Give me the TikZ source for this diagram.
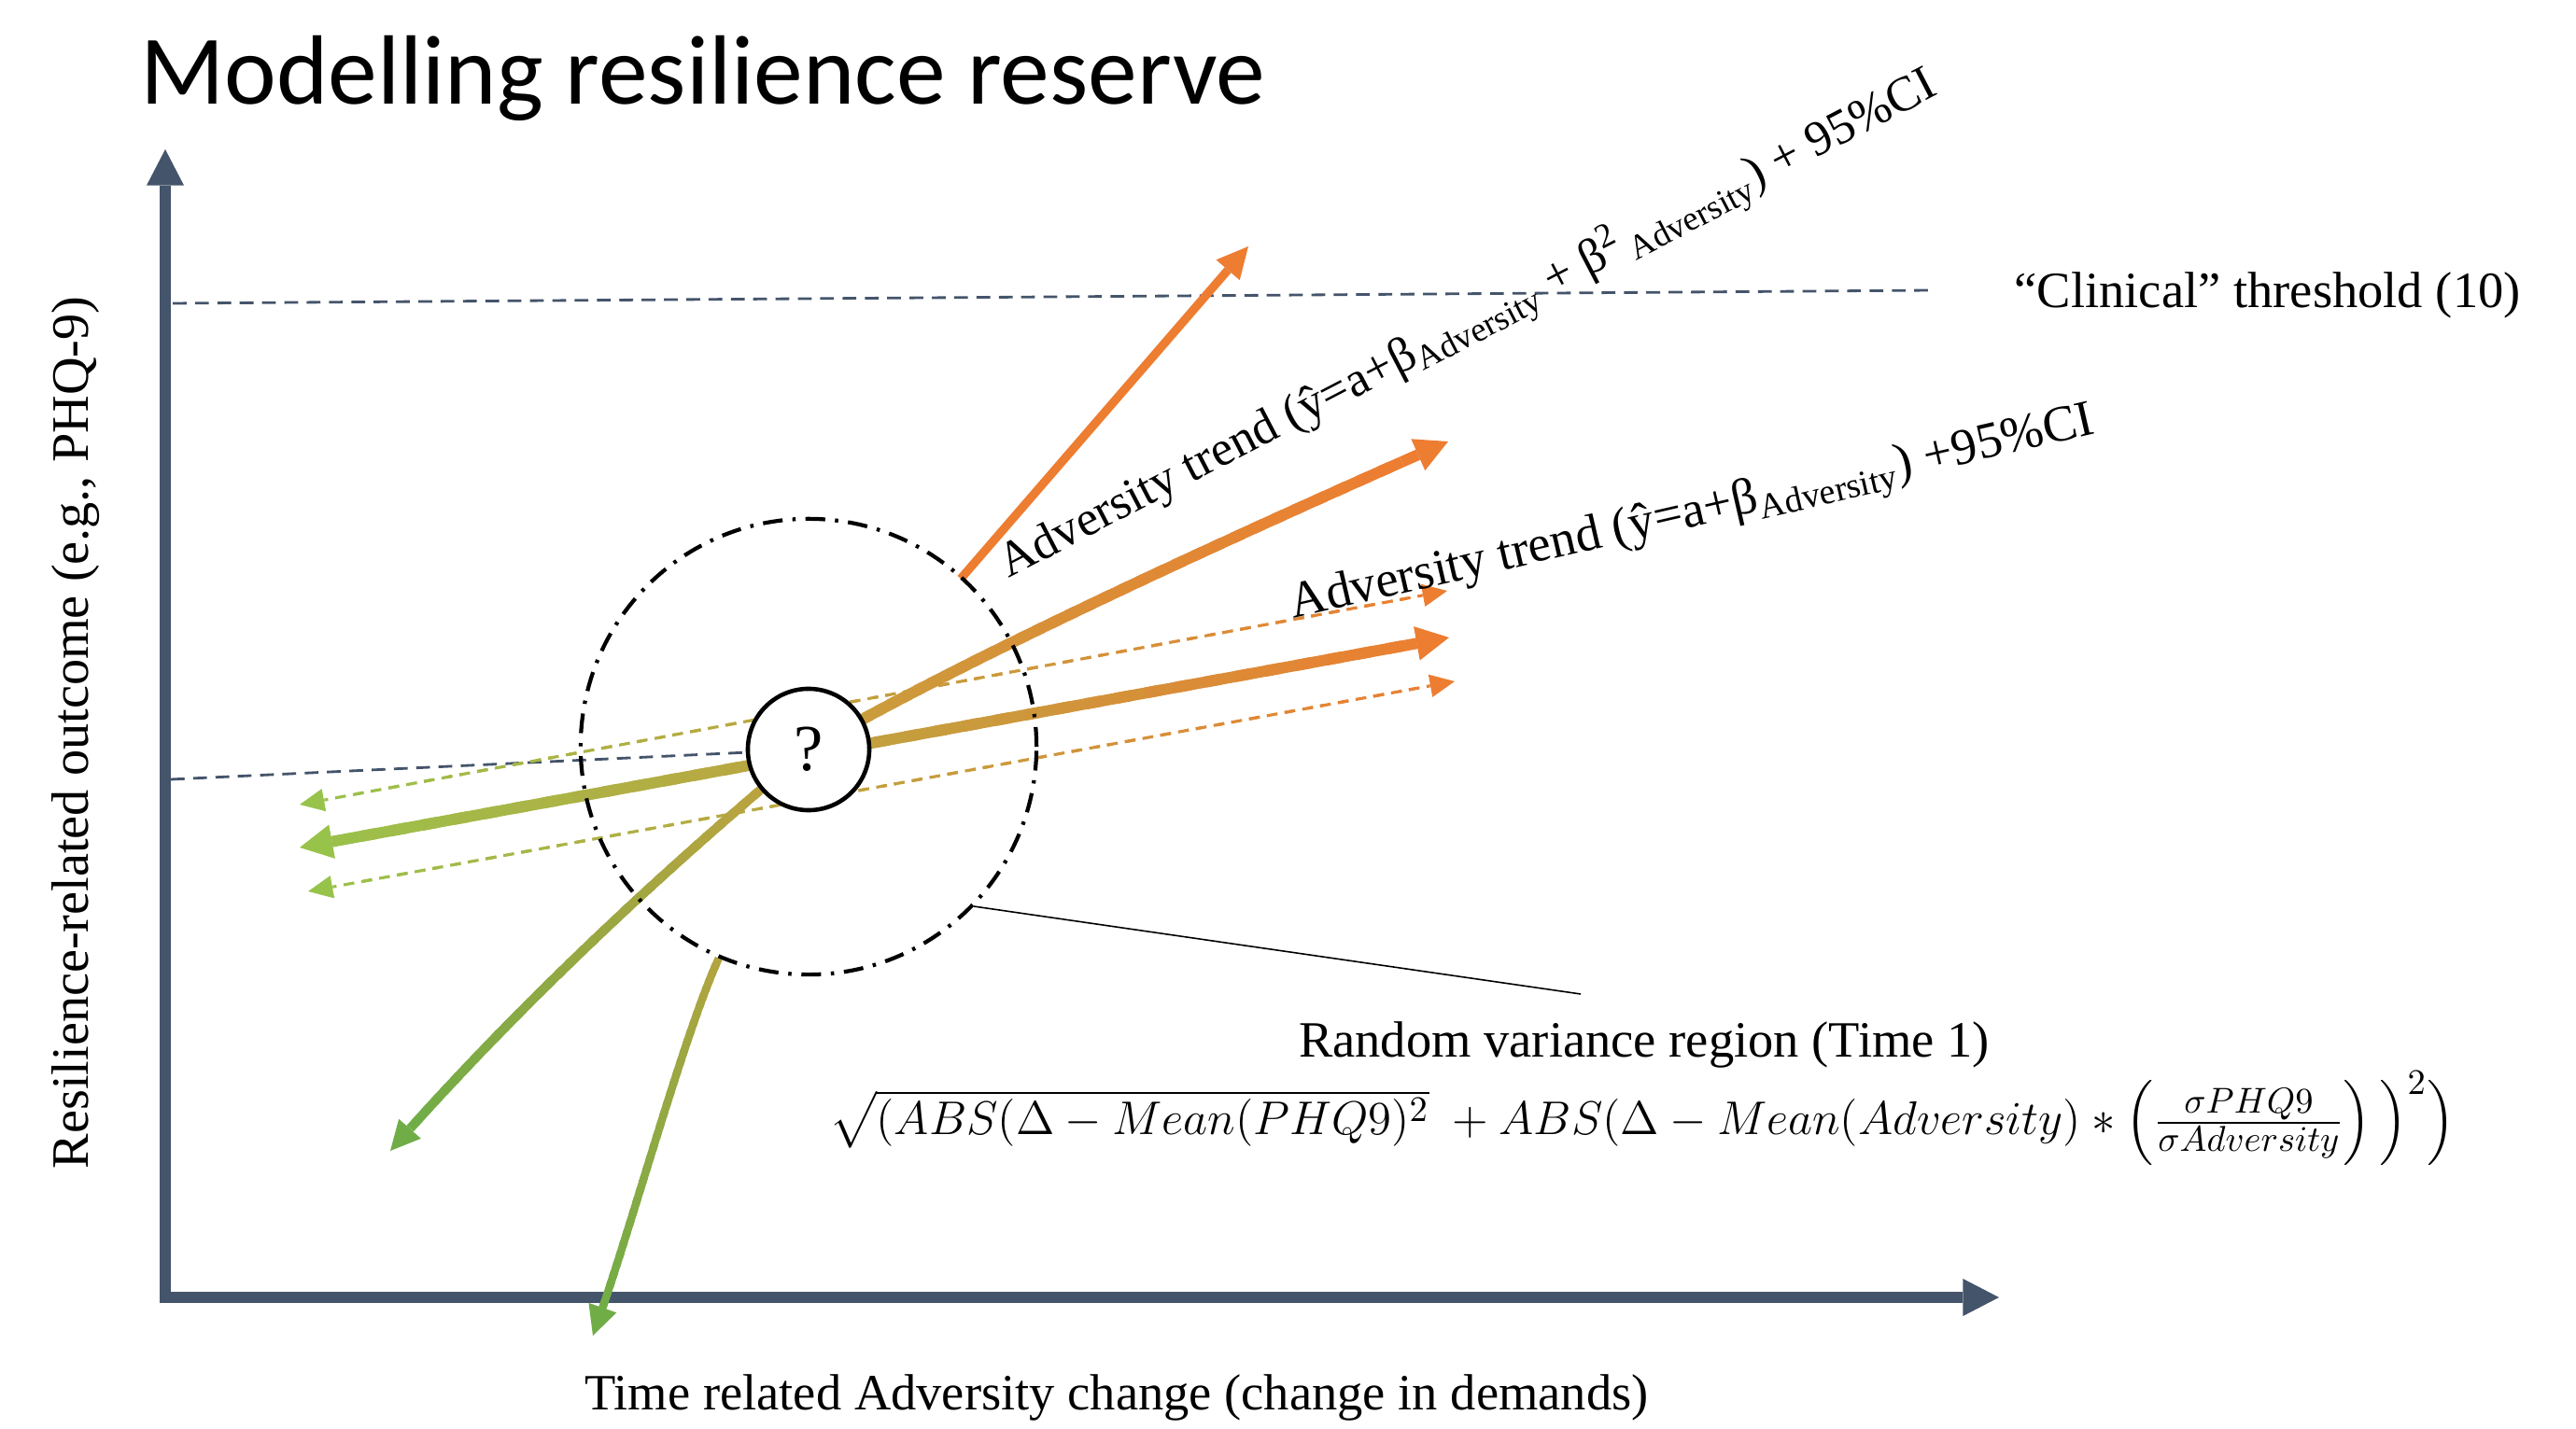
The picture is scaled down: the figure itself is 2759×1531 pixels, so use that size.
\documentclass[tikz,border=0pt]{standalone}
\usepackage{fontspec}
\setmainfont{Liberation Serif}
\newfontfamily\titlefont{Carlito}
\usepackage{amsmath}
\usetikzlibrary{arrows.meta,calc}
\pgfdeclarelayer{bg}
\pgfsetlayers{bg,main}

\definecolor{axiscol}{HTML}{44546A}
\definecolor{gorange}{HTML}{ED7D31}
\definecolor{glime}{HTML}{98C34B}
\definecolor{ggreen}{HTML}{70AD47}
\definecolor{gmust}{HTML}{C4A23E}
\definecolor{gmusttwo}{HTML}{B4A43F}

\newcommand\gN{36}
% point on a cubic Bezier through named coordinates
\newcommand\bezpt[6]{%
  \pgfmathsetmacro\ba{(1-#6)^3}%
  \pgfmathsetmacro\bb{3*(1-#6)^2*#6}%
  \pgfmathsetmacro\bc{3*(1-#6)*(#6)^2}%
  \pgfmathsetmacro\bd{(#6)^3}%
  \coordinate (#1) at ($\ba*(#2)+\bb*(#3)+\bc*(#4)+\bd*(#5)$);}
% gradient cubic connector with arrow head at the end
\newcommand\gcurve[9]{%
  \foreach \k in {1,...,\gN}{%
    \pgfmathsetmacro\ta{(\k-1)/\gN*#8}%
    \pgfmathsetmacro\tb{min((\k+0.5)/\gN*#8,#8)}%
    \pgfmathtruncatemacro\pc{round((\k-0.5)/\gN*100)}%
    \bezpt{gpa}{#1}{#2}{#3}{#4}{\ta}%
    \bezpt{gpb}{#1}{#2}{#3}{#4}{\tb}%
    \draw[#7, color=#6!\pc!#5] (gpa) -- (gpb);
  }%
  \bezpt{gpe}{#1}{#2}{#3}{#4}{#8}%
  \draw[#7, #9, color=#6] (gpe) -- (#4);
}
% gradient straight connector with arrow heads at both ends
\newcommand\gline[8]{%
  \foreach \k in {1,...,\gN}{%
    \pgfmathsetmacro\ta{#6+(\k-1)/\gN*(1-2*#6)}%
    \pgfmathsetmacro\tb{min(#6+(\k+0.5)/\gN*(1-2*#6),1-#6)}%
    \pgfmathsetmacro\dph{mod(\ta*#7,5.5)}%
    \pgfmathtruncatemacro\pc{round(100*(#6+(\k-0.5)/\gN*(1-2*#6)))}%
    \draw[#5, dash phase=\dph pt, color=#4!\pc!#3] ($(#1)!\ta!(#2)$) -- ($(#1)!\tb!(#2)$);
  }%
  \pgfmathsetmacro\tz{1-#6}%
  \draw[#5, #8, color=#3] ($(#1)!#6!(#2)$) -- (#1);
  \draw[#5, #8, color=#4] ($(#1)!\tz!(#2)$) -- (#2);
}

\tikzset{
  axisline/.style={draw=axiscol, line width=3.3pt,
    {Triangle[length=11pt,width=11.4pt,line width=0pt]}-{Triangle[length=11pt,width=11.4pt,line width=0pt]}},
  thrdash/.style={draw=axiscol, line width=0.8pt, dash pattern=on 4.2pt off 2.6pt},
  qnode/.style={circle, draw=black, line width=1.3pt, fill=white, minimum size=1.3cm,
    inner sep=0pt, font=\rmfamily\fontsize{20}{24}\selectfont},
  rvnode/.style={circle, draw=black, line width=1.2pt, minimum size=4.88cm, inner sep=0pt,
    dash pattern=on 6pt off 3pt on 1pt off 3pt},
  lbl/.style={font=\rmfamily\fontsize{15.5}{18}\selectfont, inner sep=0pt},
  thickseg/.style={line width=3.4pt},
  thinseg/.style={line width=0.9pt, dash pattern=on 3.3pt off 2.2pt},
  thicktip/.style={solid, -{Triangle[length=10pt,width=10.5pt,line width=0pt]}},
  thintip/.style={solid, -{Triangle[length=7.5pt,width=7pt,line width=0pt]}},
  greentip/.style={-{Triangle[length=9pt,width=9pt,line width=0pt]}},
}

\begin{document}
\begin{tikzpicture}[x=0.01cm,y=-0.01cm]
\useasboundingbox (0,0) rectangle (2759,1531);

% key nodes
\node[qnode] (q) at (866,803) {?};
\node[rvnode] (rvr) at (866,800) {};

% coordinates
\coordinate (ytop) at (177,160);
\coordinate (orig) at (177,1390);
\coordinate (xend) at (2141,1390);
\coordinate (th1) at (185,325);
\coordinate (th2) at (2070,311);
\coordinate (bl) at (183,835);
\coordinate (callend) at (1693,1065);
\coordinate (du1) at (321,862);
\coordinate (du2) at (1550,633);
\coordinate (dl1) at (330,955);
\coordinate (dl2) at (1558,730);
\coordinate (m1) at (321,908);
\coordinate (m2) at (1552,683);
\coordinate (o1s) at (1029,620);
\coordinate (o1e) at (1337,264);
\coordinate (o2a) at (1008,721);
\coordinate (o2b) at (1236,612);
\coordinate (o2e) at (1551,473);
\coordinate (g1a) at (695,945);
\coordinate (g1b) at (545,1089);
\coordinate (g1e) at (418,1233);
\coordinate (g2a) at (730,1115);
\coordinate (g2b) at (676,1318);
\coordinate (g2e) at (635,1431);

\begin{pgfonlayer}{bg}
  % axes
  \draw[axisline] (ytop) -- (orig) -- (xend);
  % dashed reference lines
  \draw[thrdash] (th1) -- (th2);
  \draw[thrdash] (bl) -- (q);
  % callout
  \draw[line width=0.45pt] (rvr.-44.5) -- (callend);
  % dashed confidence lines
  \gline{du1}{du2}{glime}{gorange}{thinseg}{0.0216}{355.7}{thintip}
  \gline{dl1}{dl2}{glime}{gorange}{thinseg}{0.0216}{355.2}{thintip}
  % main trend line
  \gline{m1}{m2}{glime}{gorange}{thickseg}{0.028}{0}{thicktip}
  % upper orange arrow
  \draw[gorange, line width=2.6pt, -{Triangle[length=9.5pt,width=9.5pt,line width=0pt]}] (o1s) -- (o1e);
  % quadratic trend arrow
  \gcurve{q.center}{o2a}{o2b}{o2e}{gmust}{gorange}{thickseg}{0.947}{thicktip}
  % green curved arrows
  \gcurve{q.center}{g1a}{g1b}{g1e}{gmust}{ggreen}{line width=2.8pt}{0.944}{greentip}
  \gcurve{rvr.247}{g2a}{g2b}{g2e}{gmusttwo}{ggreen}{line width=2.4pt}{0.924}{greentip}
\end{pgfonlayer}

% texts
\node[anchor=base west, inner sep=0pt, font=\titlefont\fontsize{30}{36}\selectfont] (title) at (150,112) {Modelling resilience reserve};
\node[lbl, rotate=90, font=\rmfamily\fontsize{16}{19}\selectfont] (ylab) at (81,785) {Resilience-related outcome (e.g., PHQ-9)};
\node[lbl, anchor=base] (xlab) at (1196,1510) {Time related Adversity change (change in demands)};
\node[lbl, anchor=base west] (clin) at (2157,330) {“Clinical” threshold (10)};
\node[lbl, anchor=base] (rvlab) at (1761,1133) {Random variance region (Time 1)};
\node[lbl, anchor=center, font=\rmfamily\fontsize{15}{18}\selectfont] (formula) at (1759,1198)
  {$\sqrt{(ABS(\Delta - Mean(PHQ9)^2}\;+ABS(\Delta - Mean(Adversity) \ast \left(\frac{\sigma PHQ9}{\sigma Adversity}\right)\Big)^2\Big)$};
\node[lbl, anchor=base west, rotate=27.5, font=\rmfamily\fontsize{15}{18}\selectfont] (trendA) at (1080,620)
  {Adversity trend (ŷ=a+β\textsubscript{Adversity} + β\textsuperscript{2}\textsubscript{\,Adversity}) + 95\%CI};
\node[lbl, anchor=base west, rotate=13] (trendB) at (1385,663)
  {Adversity trend (ŷ=a+β\textsubscript{Adversity}) +95\%CI};
\end{tikzpicture}
\end{document}
